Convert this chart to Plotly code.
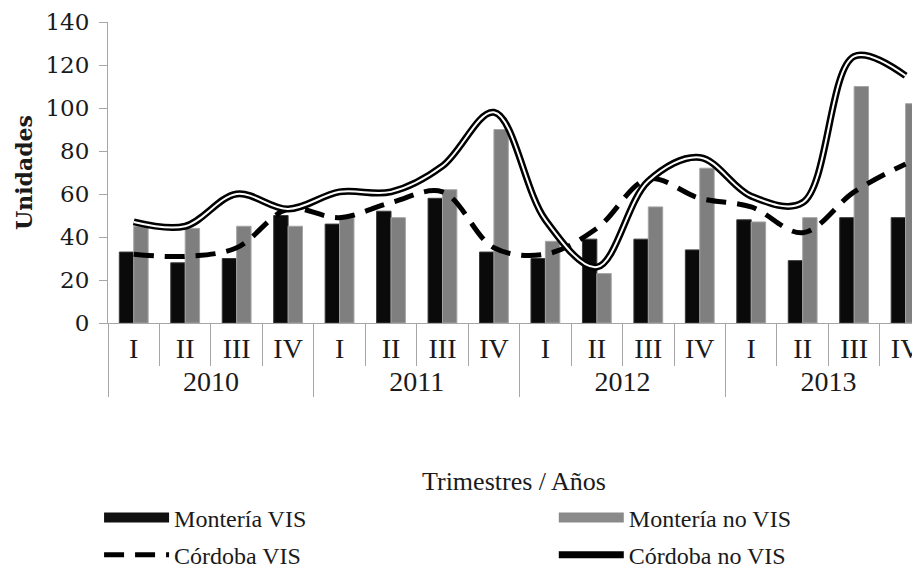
import plotly.graph_objects as go

# categorias: trimestres agrupados por año
anios = ["2010"] * 4 + ["2011"] * 4 + ["2012"] * 4 + ["2013"] * 4
trimestres = ["I", "II", "III", "IV"] * 4

monteria_vis = [33, 28, 30, 50, 46, 52, 58, 33, 30, 39, 39, 34, 48, 29, 49, 49]
monteria_no_vis = [45, 44, 45, 45, 50, 49, 62, 90, 38, 23, 54, 72, 47, 49, 110, 102]
cordoba_vis = [32, 31, 35, 53, 49, 56, 61, 35, 32, 44, 67, 58, 54, 42, 61, 74]
cordoba_no_vis = [47, 45, 60, 53, 61, 61, 73, 98, 48, 26, 66, 77, 59, 56, 124, 115]

x = [anios, trimestres]
vacio = [None] * len(anios)
serif = "Liberation Serif"

fig = go.Figure()
fig.add_trace(go.Bar(x=x, y=monteria_vis, name="Montería VIS", legendgroup="a", showlegend=False,
                     marker=dict(color="#0a0a0a", line=dict(color="#3a3a3a", width=1))))
fig.add_trace(go.Bar(x=x, y=monteria_no_vis, name="Montería no VIS", legendgroup="b", showlegend=False,
                     marker=dict(color="#7f7f7f", line=dict(color="#a5a5a5", width=1))))
# entradas de leyenda con simbolo rectangular ancho para las barras
fig.add_trace(go.Scatter(x=x, y=vacio, name="Montería VIS", mode="lines", legend="legend",
                         legendgroup="a", hoverinfo="skip", line=dict(color="#111111", width=11)))
fig.add_trace(go.Scatter(x=x, y=vacio, name="Montería no VIS", mode="lines", legend="legend2",
                         legendgroup="b", hoverinfo="skip", line=dict(color="#8a8a8a", width=11)))
fig.add_trace(go.Scatter(x=x, y=cordoba_vis, name="Córdoba VIS", mode="lines", legend="legend",
                         legendgroup="c",
                         line=dict(color="black", width=5, dash="20px,11px", shape="spline", smoothing=1)))
fig.add_trace(go.Scatter(x=x, y=cordoba_no_vis, name="Córdoba no VIS", mode="lines", legend="legend2",
                         legendgroup="d",
                         line=dict(color="black", width=7, shape="spline", smoothing=1)))
# linea blanca interior para el efecto de doble linea
fig.add_trace(go.Scatter(x=x, y=cordoba_no_vis, mode="lines", showlegend=False, hoverinfo="skip",
                         legendgroup="d",
                         line=dict(color="white", width=2, shape="spline", smoothing=1)))

leg = dict(orientation="v", y=-0.573, yanchor="top", xanchor="left", itemwidth=65,
           font=dict(family=serif, size=24, color="#1a1a1a"), traceorder="grouped",
           tracegroupgap=3, bgcolor="rgba(0,0,0,0)")

# la pagina tiene 8px de margen en el body
fig.update_layout(
    width=912, height=560,
    margin=dict(l=100, r=0, t=14, b=245, autoexpand=False),
    paper_bgcolor="white", plot_bgcolor="white",
    barmode="group", bargap=0.44, bargroupgap=0,
    font=dict(family=serif, size=24, color="#1a1a1a"),
    showlegend=True,
    legend=dict(leg, x=-0.011),
    legend2=dict(leg, x=0.549),
)
fig.update_xaxes(
    type="multicategory", range=[-0.5, 15.28], automargin=False,
    showline=True, linecolor="#a6a6a6", linewidth=1,
    ticks="outside", tickson="boundaries", ticklen=42, tickcolor="#a6a6a6",
    showdividers=True, dividercolor="#a6a6a6", dividerwidth=1,
    tickfont=dict(family=serif, size=28, color="#1a1a1a"),
    title=dict(text="Trimestres / Años", font=dict(family=serif, size=26), standoff=76),
    showgrid=False,
)
fig.update_yaxes(
    range=[0, 140], dtick=20, automargin=False,
    showline=True, linecolor="#a6a6a6", linewidth=1,
    ticks="outside", ticklen=8, tickcolor="#a6a6a6", ticklabelstandoff=5,
    tickfont=dict(family="DejaVu Serif", size=23, color="#1a1a1a"),
    title=dict(text="Unidades", font=dict(family="DejaVu Serif", size=22, weight="bold"), standoff=6),
    showgrid=False, zeroline=False,
)

fig.write_html("out.html")
